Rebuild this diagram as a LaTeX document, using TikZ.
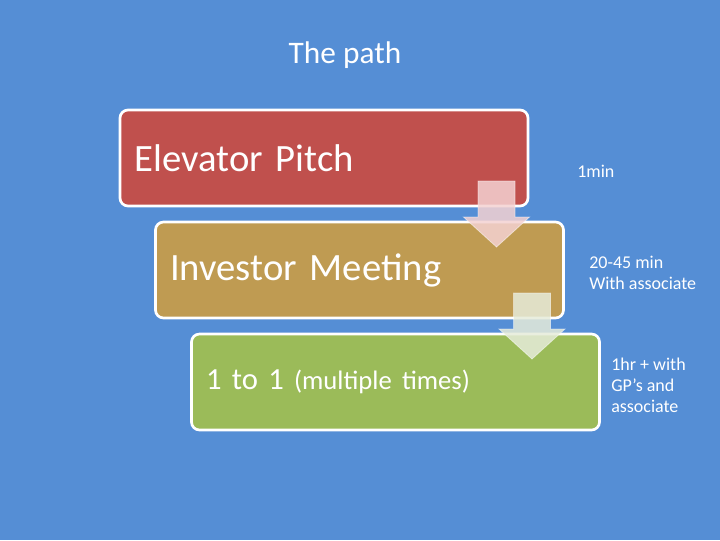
\documentclass[tikz,border=0pt]{standalone}
\usepackage{fontspec}
\setmainfont{Carlito}
\usepackage{tikz}
\usetikzlibrary{calc}
\usetikzlibrary{positioning}

\definecolor{slideblue}{HTML}{558ED5}
\definecolor{pitchred}{HTML}{C0504D}
\definecolor{meetbrown}{HTML}{BF9B52}
\definecolor{onegreen}{HTML}{9BBB59}
\definecolor{arrowpink}{HTML}{F4D2D2}
\definecolor{arrowpale}{HTML}{E6ECDA}

\begin{document}
\begin{tikzpicture}[x=0.75pt,y=-0.75pt,
                        stage/.style={draw=white,line width=2pt,rounded corners=6pt,outer sep=0,
                        text=white,text width=284pt,inner xsep=11pt,minimum height=72pt,align=left,
                        font=\fontsize{29}{34}\selectfont},
                        side/.style={text=white,anchor=west,align=left,inner sep=0,
                        font=\fontsize{13.5}{15.75}\selectfont},
                        flow/.style={draw=white,draw opacity=0.5,line width=0.6pt,fill opacity=0.85}
                        ]
                        \def\w{37}   % shaft width
                        \def\s{36}   % shaft length
                        \def\e{14.5} % head overhang
                        \def\t{30}   % head length

                        \useasboundingbox[fill=slideblue] (0,0) rectangle (720,540);

                        \node[text=white,anchor=base,font=\fontsize{23.5}{28}\selectfont] (title) at (345,63) {The path};

                        \node[stage,fill=pitchred]  (pitch)    at (324,158)   {Elevator Pitch};
                        \node[stage,fill=meetbrown] (meeting)  at (359.5,270) {Investor Meeting};
                        \node[stage,fill=onegreen,font=\fontsize{23}{27}\selectfont] (onetoone) at (395.5,382)
                            {1 to 1 {\fontsize{20}{24}\selectfont(multiple times)}};

                        \foreach \a/\c in {pitch/arrowpink,meeting/arrowpale} {
                            \coordinate (\a top) at ($(\a.south east)+(-31.5,-25)$);
                            \draw[flow,fill=\c] (\a top) ++(-\w/2,0) -- ++(\w,0) -- ++(0,\s) -- ++(\e,0)
                                -- ++(-\e-\w/2,\t) -- ++(-\e-\w/2,-\t) -- ++(\e,0) -- cycle;
                        }

                        \node[side] (onemin)  at (577,171)   {1min};
                        \node[side] (twenty)  at (589,272.5) {20-45 min\\With associate};
                        \node[side] (onehour) at (611,385)   {1hr + with\\GP’s and\\associate};
                    \end{tikzpicture}
\end{document}
